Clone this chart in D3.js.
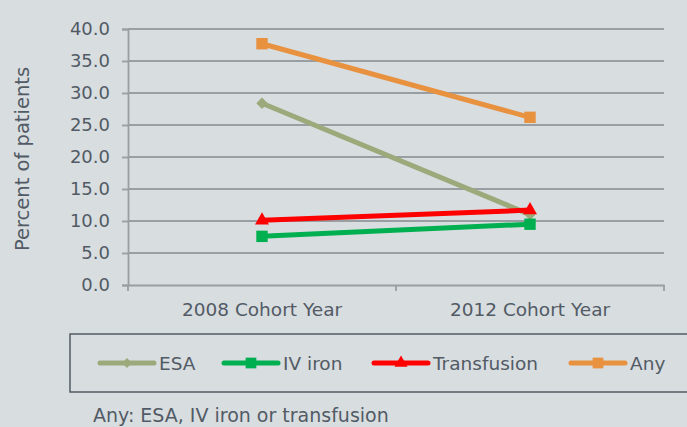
<!DOCTYPE html>
<html><head><meta charset="utf-8">
<script src="https://cdn.jsdelivr.net/npm/d3@7"></script>
<style>
html,body{margin:0;padding:0;background:#d8dde0;}
svg{display:block;}
text{font-family:"DejaVu Sans",sans-serif;fill:#525b65;}
</style></head><body>
<svg id="c" width="687" height="427"></svg>
<script>
const categories = ["2008 Cohort Year", "2012 Cohort Year"];
const seriesNames = ["ESA", "IV iron", "Transfusion", "Any"];
const esa = [28.4, 11.0];
const ivIron = [7.6, 9.5];
const transfusion = [10.1, 11.7];
const anyUse = [37.7, 26.2];
const yTicks = [0, 5, 10, 15, 20, 25, 30, 35, 40];
const footnote = "Any: ESA, IV iron or transfusion";
const yTitle = "Percent of patients";

(function(){
const colors = {"ESA":"#9ca97b","IV iron":"#00b050","Transfusion":"#ff0000","Any":"#e8913f"};
const shapes = {"ESA":d3.symbolSquare,"IV iron":d3.symbolSquare,"Transfusion":d3.symbolTriangle,"Any":d3.symbolSquare};
const rot = {"ESA":45,"IV iron":0,"Transfusion":0,"Any":0};
const sizes = {"ESA":65,"IV iron":130,"Transfusion":85,"Any":130};
const legSizes = {"ESA":50,"IV iron":115,"Transfusion":75,"Any":115};
const seriesData = [esa, ivIron, transfusion, anyUse];
const txt = "#525b65", grid = "#999ea2";

const svg = d3.select("#c");
const mLeft = 128, mRight = 664, mTop = 29, mBottom = 285;
const x = d3.scaleBand().domain(categories).range([mLeft, mRight]);
const y = d3.scaleLinear().domain([0, 40]).range([mBottom, mTop]);

svg.append("g").selectAll("line").data(yTicks.filter(d=>d>0)).join("line")
  .attr("x1", mLeft).attr("x2", mRight).attr("y1", d=>y(d)).attr("y2", d=>y(d))
  .attr("stroke", grid).attr("stroke-width", 1.8);

const yAxis = svg.append("g").attr("transform", `translate(${mLeft},0)`)
  .call(d3.axisLeft(y).tickValues(yTicks).tickFormat(d3.format(".1f")).tickSize(6).tickPadding(12));
yAxis.select(".domain").attr("stroke", grid).attr("stroke-width", 1.8);
yAxis.selectAll(".tick line").attr("stroke", grid).attr("stroke-width", 1.8);
yAxis.selectAll(".tick text").attr("font-size", 18).attr("fill", txt).attr("font-family", "DejaVu Sans");

const xAxis = svg.append("g").attr("transform", `translate(0,${mBottom})`)
  .call(d3.axisBottom(x).tickSize(0).tickPadding(18));
xAxis.select(".domain").attr("stroke", grid).attr("stroke-width", 1.8);
xAxis.selectAll(".tick text").attr("font-size", 18.5).attr("fill", txt).attr("font-family", "DejaVu Sans");
const bounds = [mLeft, mLeft + x.bandwidth(), mRight];
svg.append("g").selectAll("line").data(bounds).join("line")
  .attr("x1", d=>d).attr("x2", d=>d).attr("y1", mBottom).attr("y2", mBottom + 6)
  .attr("stroke", grid).attr("stroke-width", 1.8);

svg.append("text").attr("transform", `translate(28.5,159) rotate(-90)`)
  .attr("text-anchor", "middle").attr("font-size", 19.5).text(yTitle);

const cx = c => x(c) + x.bandwidth()/2;
const line = d3.line().x((d,i)=>cx(categories[i])).y(d=>y(d));
const order = [0,3,2,1];
order.forEach(si => {
  const name = seriesNames[si], vals = seriesData[si];
  svg.append("path").datum(vals).attr("d", line).attr("fill", "none")
    .attr("stroke", colors[name]).attr("stroke-width", 5);
  svg.append("g").selectAll("path").data(vals).join("path")
    .attr("d", d3.symbol().type(shapes[name]).size(sizes[name]))
    .attr("transform", (d,i)=>`translate(${cx(categories[i])},${y(d)}) rotate(${rot[name]})`)
    .attr("fill", colors[name]);
});

svg.append("rect").attr("x", 70).attr("y", 334).attr("width", 640).attr("height", 58)
  .attr("fill", "none").attr("stroke", "#4a535c").attr("stroke-width", 1.4);
const legX = [99, 223, 373, 570];
const legY = 363;
seriesNames.forEach((name, i) => {
  const g = svg.append("g").attr("transform", `translate(${legX[i]},${legY})`);
  g.append("line").attr("x1", 1).attr("x2", 55).attr("stroke", colors[name])
    .attr("stroke-width", 5).attr("stroke-linecap", "round");
  g.append("path").attr("d", d3.symbol().type(shapes[name]).size(legSizes[name]))
    .attr("transform", `translate(28,0) rotate(${rot[name]})`).attr("fill", colors[name]);
  g.append("text").attr("x", 60).attr("dy", "0.36em").attr("font-size", 18.5).text(name);
});

svg.append("text").attr("x", 93).attr("y", 422).attr("font-size", 19).text(footnote);
})();
</script>
</body></html>
